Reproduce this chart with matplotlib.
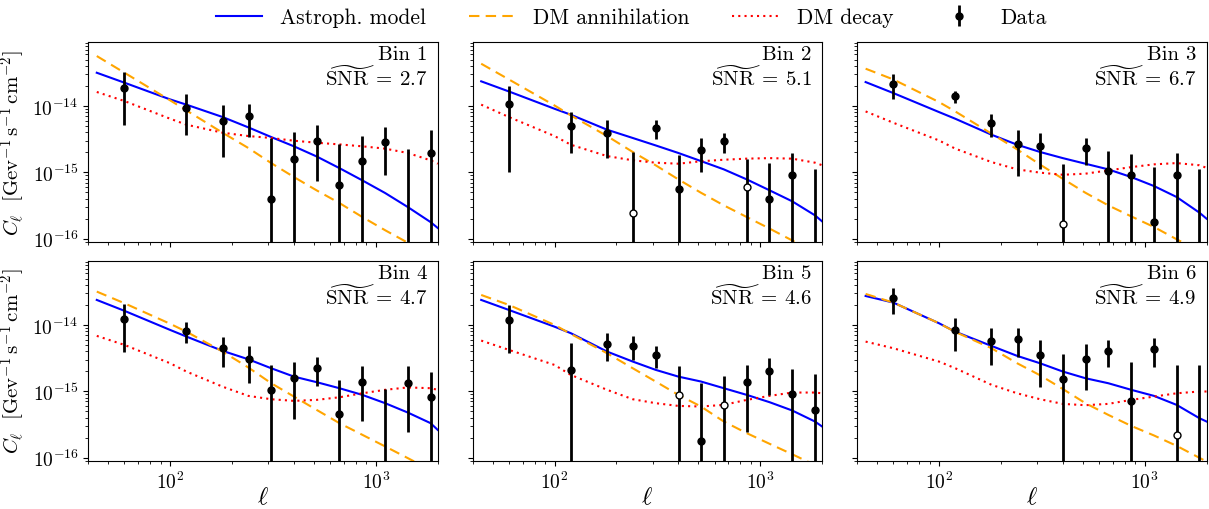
import numpy as np
import matplotlib
matplotlib.use('Agg')
import matplotlib.pyplot as plt

plt.rcParams['font.family'] = 'serif'
plt.rcParams['font.serif'] = ['cmr10']
plt.rcParams['mathtext.fontset'] = 'cm'
plt.rcParams['axes.formatter.use_mathtext'] = True

# multipole bins of the data points
ell_data = [60, 120, 180, 242, 311, 401, 516, 664, 861, 1109, 1432, 1845]

# measured C_ell (negative values drawn as open circles at |value|) and 1-sigma errors
val_1 = [1.87e-14, 9.3e-15, 6.0e-15, 7.0e-15, 4.0e-16, 1.61e-15, 2.93e-15, 6.5e-16, 1.48e-15, 2.9e-15, -5e-17, 1.98e-15]
err_1 = [1.35e-14, 5.7e-15, 4.3e-15, 3.6e-15, 2.9e-15, 2.45e-15, 2.2e-15, 1.99e-15, 2.0e-15, 2.0e-15, 2.3e-15, 2.32e-15]
val_2 = [1.06e-14, 5.05e-15, 3.87e-15, -2.47e-16, 4.71e-15, 5.68e-16, 2.15e-15, 2.93e-15, -6.08e-16, 3.96e-16, 9.12e-16, -5e-17]
err_2 = [9.6e-15, 3.1e-15, 2.2e-15, 2.28e-15, 1.5e-15, 1.24e-15, 1.15e-15, 1.0e-15, 2.22e-15, 9.9e-16, 1.04e-15, 1.16e-15]
val_3 = [2.15e-14, 1.4e-14, 5.48e-15, 2.64e-15, 2.52e-15, -1.68e-16, 2.3e-15, 1.06e-15, 9.12e-16, 1.78e-16, 9.12e-16, -5e-17]
err_3 = [8.5e-15, 2.8e-15, 2.1e-15, 1.76e-15, 1.4e-15, 1.52e-15, 1.03e-15, 1.01e-15, 9.8e-16, 1.02e-15, 1.04e-15, 1.16e-15]
val_4 = [1.22e-14, 8.12e-15, 4.5e-15, 3.1e-15, 1.05e-15, 1.59e-15, 2.25e-15, 4.5e-16, 1.38e-15, -5e-17, 1.34e-15, 8.2e-16]
err_4 = [8.3e-15, 2.85e-15, 2.17e-15, 1.78e-15, 1.44e-15, 1.21e-15, 1.05e-15, 1.03e-15, 1.03e-15, 1.13e-15, 1.1e-15, 1.11e-15]
val_5 = [1.2e-14, 2.1e-15, 5.18e-15, 4.82e-15, 3.57e-15, -8.9e-16, 1.8e-16, -6.2e-16, 1.38e-15, 2.0e-15, 9.1e-16, 5.17e-16]
err_5 = [8.2e-15, 3.2e-15, 2.3e-15, 1.9e-15, 1.3e-15, 3.33e-15, 1.17e-15, 2.34e-15, 1.14e-15, 1.12e-15, 1.26e-15, 1.31e-15]
val_6 = [2.52e-14, 8.5e-15, 5.8e-15, 6.08e-15, 3.49e-15, 1.52e-15, 3.07e-15, 4.1e-15, 7.15e-16, 4.3e-15, -2.17e-16, -5e-17]
err_6 = [1.05e-14, 4.4e-15, 3.3e-15, 2.8e-15, 2.35e-15, 2.14e-15, 2.04e-15, 1.8e-15, 2.0e-15, 2.0e-15, 2.74e-15, 2.5e-15]

ell_model = [44, 60, 100, 120, 180, 240, 310, 400, 515, 665, 860, 1110, 1430, 1845, 2000]

astro_1 = [3.18e-14, 2.25e-14, 1.26e-14, 1.05e-14, 6.83e-15, 4.77e-15, 3.41e-15, 2.47e-15, 1.74e-15, 1.16e-15, 7.57e-16, 4.88e-16, 3.0e-16, 1.78e-16, 1.45e-16]
ann_1 = [5.68e-14, 3.18e-14, 1.22e-14, 8.6e-15, 3.96e-15, 2.33e-15, 1.38e-15, 8.5e-16, 5.36e-16, 3.45e-16, 2.12e-16, 1.34e-16, 8.7e-17, 5.5e-17, 4.66e-17]
dec_1 = [1.63e-14, 1.19e-14, 6.44e-15, 5.24e-15, 3.96e-15, 3.53e-15, 3.3e-15, 3.0e-15, 2.8e-15, 2.64e-15, 2.47e-15, 2.28e-15, 1.96e-15, 1.52e-15, 1.35e-15]

astro_2 = [2.36e-14, 1.66e-14, 9.1e-15, 7.4e-15, 4.4e-15, 3.3e-15, 2.55e-15, 1.96e-15, 1.48e-15, 1.11e-15, 7.83e-16, 5.36e-16, 3.66e-16, 2.25e-16, 1.82e-16]
ann_2 = [4.35e-14, 2.52e-14, 1.02e-14, 7.23e-15, 3.53e-15, 2.03e-15, 1.28e-15, 7.83e-16, 4.93e-16, 3.18e-16, 2.12e-16, 1.42e-16, 9.4e-17, 6.15e-17, 5.3e-17]
dec_2 = [1.05e-14, 6.83e-15, 3.53e-15, 2.61e-15, 1.76e-15, 1.52e-15, 1.4e-15, 1.35e-15, 1.47e-15, 1.55e-15, 1.61e-15, 1.64e-15, 1.61e-15, 1.4e-15, 1.28e-15]

astro_3 = [2.3e-14, 1.57e-14, 8.12e-15, 6.44e-15, 3.7e-15, 2.61e-15, 2.03e-15, 1.64e-15, 1.35e-15, 1.11e-15, 8.5e-16, 6.22e-16, 4.25e-16, 2.47e-16, 2.0e-16]
ann_3 = [3.66e-14, 2.52e-14, 1.15e-14, 8.3e-15, 3.83e-15, 2.22e-15, 1.31e-15, 8.0e-16, 4.93e-16, 3.18e-16, 2.17e-16, 1.5e-16, 9.8e-17, 6.45e-17, 5.6e-17]
dec_3 = [8.3e-15, 5.6e-15, 3.03e-15, 2.28e-15, 1.43e-15, 1.11e-15, 9.9e-16, 9.2e-16, 9.55e-16, 1.07e-15, 1.2e-15, 1.32e-15, 1.38e-15, 1.28e-15, 1.17e-15]

astro_4 = [2.38e-14, 1.63e-14, 8.4e-15, 6.67e-15, 4.06e-15, 3.03e-15, 2.22e-15, 1.66e-15, 1.37e-15, 1.11e-15, 8.8e-16, 6.6e-16, 4.77e-16, 3.3e-16, 2.61e-16]
ann_4 = [3.18e-14, 2.12e-14, 1.04e-14, 7.9e-15, 3.96e-15, 2.28e-15, 1.32e-15, 8.3e-16, 5.24e-16, 3.3e-16, 2.2e-16, 1.47e-16, 9.8e-17, 6.5e-17, 5.8e-17]
dec_4 = [6.83e-15, 4.99e-15, 2.64e-15, 1.98e-15, 1.17e-15, 8.5e-16, 7.57e-16, 7.15e-16, 7.4e-16, 8.1e-16, 9.3e-16, 1.05e-15, 1.14e-15, 1.11e-15, 1.05e-15]

astro_5 = [2.38e-14, 1.68e-14, 9.4e-15, 7.5e-15, 3.96e-15, 2.8e-15, 2.1e-15, 1.66e-15, 1.4e-15, 1.11e-15, 8.8e-16, 6.83e-16, 5.12e-16, 3.49e-16, 2.93e-16]
ann_5 = [2.83e-14, 2.0e-14, 1.0e-14, 7.3e-15, 3.74e-15, 2.22e-15, 1.4e-15, 8.8e-16, 5.88e-16, 3.49e-16, 2.33e-16, 1.61e-16, 1.12e-16, 7.7e-17, 6.9e-17]
dec_5 = [5.8e-15, 4.2e-15, 2.49e-15, 1.76e-15, 1.05e-15, 7.57e-16, 6.6e-16, 6.0e-16, 5.88e-16, 6.22e-16, 7.4e-16, 8.5e-16, 9.55e-16, 9.55e-16, 9.3e-16]

astro_6 = [2.73e-14, 2.17e-14, 1.06e-14, 7.9e-15, 4.82e-15, 3.41e-15, 2.64e-15, 1.98e-15, 1.57e-15, 1.32e-15, 1.05e-15, 8.5e-16, 6.22e-16, 3.92e-16, 3.49e-16]
ann_6 = [2.93e-14, 2.17e-14, 1.06e-14, 7.84e-15, 4.45e-15, 2.64e-15, 1.74e-15, 1.08e-15, 6.6e-16, 4.4e-16, 3.0e-16, 2.15e-16, 1.5e-16, 9.9e-17, 8.7e-17]
dec_6 = [5.6e-15, 4.45e-15, 2.8e-15, 2.22e-15, 1.25e-15, 9.3e-16, 7.57e-16, 6.44e-16, 6.15e-16, 6.44e-16, 7.4e-16, 8.3e-16, 9.3e-16, 9.9e-16, 9.9e-16]

snr = [2.7, 5.1, 6.7, 4.7, 4.6, 4.9]
yticks = [1e-16, 1e-15, 1e-14]

vals = [val_1, val_2, val_3, val_4, val_5, val_6]
errs = [err_1, err_2, err_3, err_4, err_5, err_6]
astros = [astro_1, astro_2, astro_3, astro_4, astro_5, astro_6]
anns = [ann_1, ann_2, ann_3, ann_4, ann_5, ann_6]
decs = [dec_1, dec_2, dec_3, dec_4, dec_5, dec_6]

fig, axes = plt.subplots(2, 3, figsize=(12.09, 5.10), dpi=100, sharex=True, sharey=True)
fig.subplots_adjust(left=0.073, right=0.998, top=0.916, bottom=0.095, wspace=0.1, hspace=0.095)

ell = np.array(ell_data, dtype=float)
for i, ax in enumerate(axes.flat):
    ax.set_xscale('log')
    ax.set_yscale('log')
    ax.plot(ell_model, astros[i], color='blue', lw=1.5, label='Astroph. model')
    ax.plot(ell_model, anns[i], color='orange', lw=1.5, ls=(0, (5, 3)), label='DM annihilation')
    ax.plot(ell_model, decs[i], color='red', lw=1.5, ls=(0, (1, 2)), label='DM decay')

    v = np.array(vals[i])
    e = np.array(errs[i])
    lo = np.clip(v - e, 1e-20, None)
    hi = v + e
    pos = v > 0
    neg = ~pos
    y = np.abs(v)
    ax.errorbar(ell[pos], y[pos], yerr=[y[pos] - lo[pos], hi[pos] - y[pos]], fmt='o',
                color='k', ms=5, elinewidth=2, capsize=0, label='Data')
    ax.errorbar(ell[neg], y[neg], yerr=[np.clip(y[neg] - lo[neg], 0, None), hi[neg] - y[neg]],
                fmt='o', color='k', mfc='white', mec='k', ms=5, elinewidth=2, capsize=0)

    ax.text(0.97, 0.985, f'Bin {i + 1}', transform=ax.transAxes, ha='right', va='top',
            fontsize=15)
    ax.text(0.97, 0.885, r'$\widetilde{\rm SNR}\:=\:%.1f$' % snr[i], transform=ax.transAxes,
            ha='right', va='top', fontsize=15)
    ax.tick_params(axis='both', which='major', labelsize=14)

axes[0, 0].set_xlim(40, 2000)
axes[0, 0].set_yticks(yticks)
axes[0, 0].set_ylim(9e-17, 9.3e-14)

for ax in axes[:, 0]:
    ax.set_ylabel(r'$C_\ell\ \ [\mathrm{Gev}^{-1}\,\mathrm{s}^{-1}\,\mathrm{cm}^{-2}]$', fontsize=15)
for ax in axes[1, :]:
    ax.set_xlabel(r'$\ell$', fontsize=18, labelpad=-4)

handles, labels = axes[0, 0].get_legend_handles_labels()
fig.legend(handles, labels, loc='center', ncol=4, frameon=False, fontsize=15.5,
           bbox_to_anchor=(0.522, 0.964), handlelength=2.14, columnspacing=2.0,
           handletextpad=0.84)

fig.savefig('out.png', dpi=100)
